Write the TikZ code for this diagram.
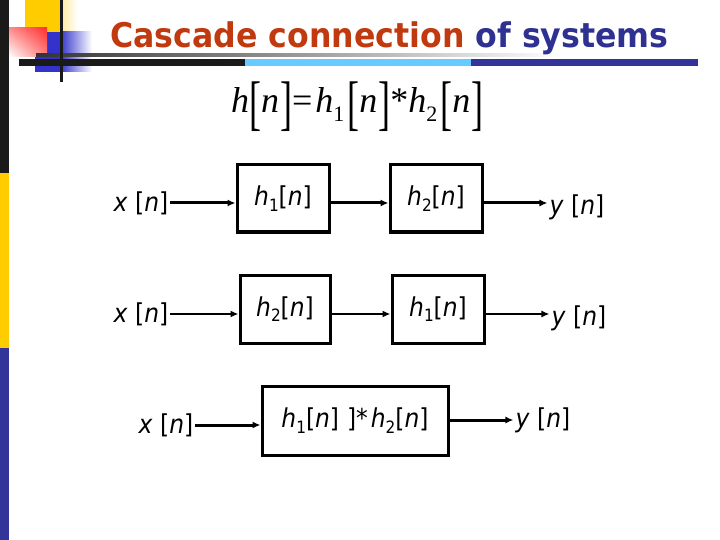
\documentclass[tikz,border=0pt]{standalone}
\usepackage{fontspec}
\setmainfont{DejaVu Sans}
\newfontfamily\labelfont[FakeStretch=0.9]{DejaVu Sans}
\newfontfamily\titlefont[FakeStretch=0.93]{DejaVu Sans}
\newfontfamily\eqfont{Liberation Serif}
\usetikzlibrary{arrows.meta, positioning, calc, shadings}
\definecolor{barblack}{HTML}{1A1A1A}
\definecolor{baryellow}{HTML}{FFCC00}
\definecolor{barblue}{HTML}{333399}
\definecolor{skyblue}{HTML}{66CCFF}
\definecolor{titlered}{HTML}{C0390F}
\definecolor{titleblue}{HTML}{2E3192}
\definecolor{squareblue}{HTML}{3333CC}
\definecolor{squarered}{HTML}{FF3030}
\newcommand{\lowsub}[1]{\raisebox{-0.22em}{\fontsize{17}{17}\selectfont #1}}
\newcommand{\sig}[2]{\textit{#1}\lowsub{#2}[\textit{n}]}
\newcommand{\eqsub}[1]{\raisebox{-0.25em}{\fontsize{22}{22}\selectfont #1}}
\newcommand{\tallbk}[1]{\raisebox{-10.5pt}{\scalebox{1}[1.67]{#1}}}
\newcommand{\eqsig}[2]{\textit{#1}#2\tallbk{[}\textit{n}\kern1pt\tallbk{]}}
\tikzset{
  sysbox/.style={
    rectangle, draw=black, line width=3pt,
    minimum width=92pt, minimum height=67pt, inner sep=0pt,
    font=\labelfont\fontsize{26}{30}\selectfont
  },
  signal/.style={inner sep=2pt, font=\labelfont\fontsize{26}{30}\selectfont},
  flow/.style={-{Latex[length=8pt,width=7pt]}, line width=3pt},
  thinflow/.style={flow, line width=2.2pt},
}
\begin{document}
\begin{tikzpicture}[x=1pt, y=-1pt]
  \useasboundingbox (0,0) rectangle (720,540);

  % side bar and corner squares
  \fill[barblack] (0,0) rectangle (9,173);
  \fill[baryellow] (0,173) rectangle (9,348);
  \fill[barblue] (0,348) rectangle (9,540);
  \fill[baryellow] (25,0) rectangle (60,33);
  \shade[left color=baryellow!40, right color=white] (60,0) rectangle (78,33);
  \fill[squareblue] (35,32) rectangle (60,72);
  \shade[left color=squareblue, right color=white] (60,32) rectangle (92,72);
  \shade[upper right=squarered, upper left=squarered!55, lower right=squarered!60, lower left=white] (9,28) rectangle (47,57);
  \shade[left color=black!80, right color=white] (36,54) rectangle (560,57);
  \fill[barblack] (19,59) rectangle (245,66);
  \fill[skyblue] (245,59) rectangle (471,66);
  \fill[barblue] (471,59) rectangle (698,66);
  \fill[barblack] (60,0) rectangle (63,82);

  % title and formula
  \node[anchor=base west, inner sep=0pt, font=\titlefont\bfseries\fontsize{34}{40}\selectfont] (title) at (110,48)
    {\textcolor{titlered}{Cascade connection} \textcolor{titleblue}{of systems}};
  \node[anchor=base west, inner sep=0pt, font=\eqfont\fontsize{36}{40}\selectfont] (formula) at (231,113)
    {\eqsig{h}{}=\kern3pt\eqsig{h}{\eqsub{1}\kern3pt}*\eqsig{h}{\eqsub{2}\kern3pt}};

  % first cascade
  \node[signal] (x1) at (141,203) {\textit{x} [\textit{n}]};
  \node[sysbox] (h1a) at (283,198.5) {\sig{h}{1}};
  \node[sysbox] (h2a) at (436,198.5) {\sig{h}{2}};
  \node[signal] (y1) at (577,207) {\textit{y} [\textit{n}]};
  \draw[flow] (x1.east) -- (x1.east -| h1a.west);
  \draw[flow] (h1a.east |- x1) -- (h2a.west |- x1);
  \draw[flow] (h2a.east |- x1) -- (y1.west |- x1);

  % swapped order
  \node[signal] (x2) at (141,314) {\textit{x} [\textit{n}]};
  \node[sysbox, minimum width=90pt, minimum height=68pt] (h2b) at (285,309) {\sig{h}{2}};
  \node[sysbox, minimum height=68pt] (h1b) at (438,309) {\sig{h}{1}};
  \node[signal] (y2) at (579,318) {\textit{y} [\textit{n}]};
  \draw[thinflow] (x2.east) -- (x2.east -| h2b.west);
  \draw[thinflow] (h2b.east |- x2) -- (h1b.west |- x2);
  \draw[thinflow] (h1b.east |- x2) -- (y2.west |- x2);

  % equivalent system
  \node[signal] (x3) at (166,425) {\textit{x} [\textit{n}]};
  \node[sysbox, minimum width=186pt, minimum height=69pt] (hc) at (355,420.5)
    {\sig{h}{1}\kern8pt]*\kern3pt\sig{h}{2}};
  \node[signal] (y3) at (543,420) {\textit{y} [\textit{n}]};
  \draw[flow] (x3.east) -- (x3.east -| hc.west);
  \draw[flow] (hc.east |- y3.west) -- (y3.west);
\end{tikzpicture}
\end{document}
